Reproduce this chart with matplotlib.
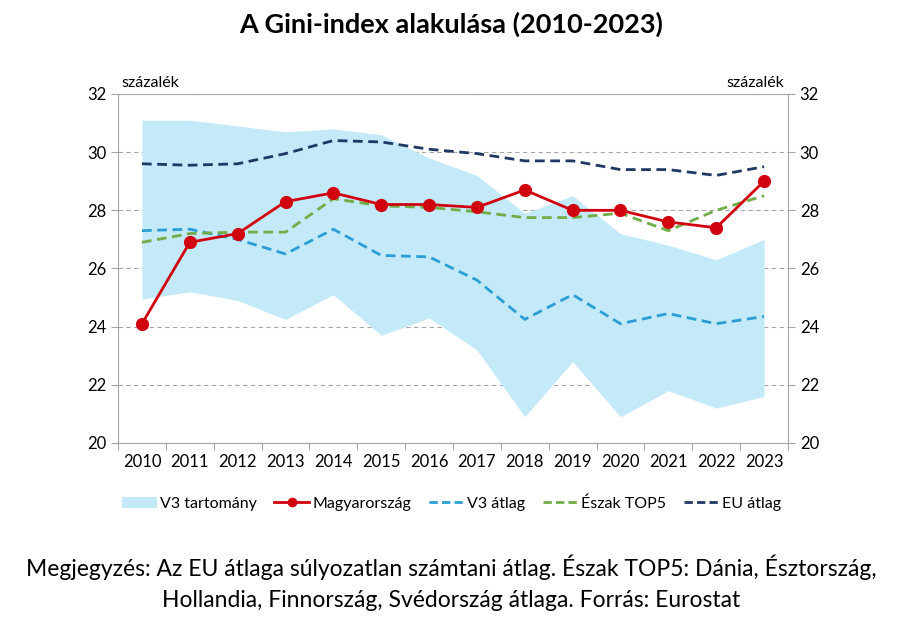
import matplotlib.pyplot as plt
from matplotlib.patches import Patch
from matplotlib.lines import Line2D

plt.rcParams['font.family'] = ['Lato', 'DejaVu Sans']

years = [2010, 2011, 2012, 2013, 2014, 2015, 2016, 2017, 2018, 2019, 2020, 2021, 2022, 2023]
v3_top = [31.1, 31.1, 30.9, 30.7, 30.8, 30.6, 29.8, 29.2, 27.9, 28.5, 27.2, 26.8, 26.3, 27.0]
v3_bottom = [24.95, 25.2, 24.9, 24.25, 25.1, 23.7, 24.3, 23.2, 20.9, 22.8, 20.9, 21.8, 21.2, 21.6]
hungary = [24.1, 26.9, 27.2, 28.3, 28.6, 28.2, 28.2, 28.1, 28.7, 28.0, 28.0, 27.6, 27.4, 29.0]
v3_avg = [27.3, 27.35, 27.0, 26.5, 27.35, 26.45, 26.4, 25.6, 24.25, 25.1, 24.1, 24.45, 24.1, 24.35]
north_top5 = [26.9, 27.2, 27.25, 27.25, 28.4, 28.15, 28.1, 27.95, 27.75, 27.75, 27.9, 27.3, 28.0, 28.5]
eu_avg = [29.6, 29.55, 29.6, 29.95, 30.4, 30.35, 30.1, 29.95, 29.7, 29.7, 29.4, 29.4, 29.2, 29.5]

c_band = '#c4eaf9'
c_hu = '#d0020f'
c_v3 = '#2a9fd6'
c_north = '#70ad47'
c_eu = '#1f3864'

fig = plt.figure(figsize=(9.03, 6.22), dpi=100)
ax = fig.add_axes([0.1307, 0.2878, 0.7419, 0.5611])

x = list(range(len(years)))
ax.fill_between(x, v3_bottom, v3_top, color=c_band, linewidth=0, zorder=1)
ax.plot(x, v3_avg, color=c_v3, linestyle=(0, (3.5, 2)), linewidth=2, zorder=3)
ax.plot(x, north_top5, color=c_north, linestyle=(0, (3.5, 2)), linewidth=2, zorder=3)
ax.plot(x, eu_avg, color=c_eu, linestyle=(0, (3.5, 2)), linewidth=2, zorder=3)
ax.plot(x, hungary, color=c_hu, linewidth=2, marker='o', markersize=8.5, zorder=4)

ax.set_xlim(-0.5, len(years) - 0.5)
ax.set_ylim(20, 32)
ax.set_yticks(range(20, 33, 2))
ax.set_xticks([i - 0.5 for i in range(len(years) + 1)], minor=False)
ax.set_xticklabels([])
ax.set_xticks(x, minor=True)
ax.set_xticklabels([str(y) for y in years], minor=True)
ax.tick_params(axis='x', which='minor', length=0, labelsize=12, pad=8)
ax.tick_params(axis='x', which='major', length=5, color='#a6a6a6', direction='out')
ax.tick_params(axis='y', length=5, color='#a6a6a6', labelsize=12, right=True, labelright=True)
ax.grid(axis='y', color='#a6a6a6', linestyle=(0, (4, 3)), linewidth=0.8, zorder=0)
for sp in ax.spines.values():
    sp.set_color('#a6a6a6')
ax.set_axisbelow(True)

ax.text(0.005, 1.01, 'százalék', transform=ax.transAxes, ha='left', va='bottom', fontsize=11.5)
ax.text(0.995, 1.01, 'százalék', transform=ax.transAxes, ha='right', va='bottom', fontsize=11.5)

fig.suptitle('A Gini-index alakulása (2010-2023)', x=0.5, y=0.982, fontsize=19.5, fontweight='bold')

handles = [
    Patch(facecolor=c_band, edgecolor='none'),
    Line2D([], [], color=c_hu, linewidth=2, marker='o', markersize=6),
    Line2D([], [], color=c_v3, linewidth=2, linestyle=(0, (3, 1.5))),
    Line2D([], [], color=c_north, linewidth=2, linestyle=(0, (3, 1.5))),
    Line2D([], [], color=c_eu, linewidth=2, linestyle=(0, (3, 1.5))),
]
labels = ['V3 tartomány', 'Magyarország', 'V3 átlag', 'Észak TOP5', 'EU átlag']
fig.legend(handles, labels, loc='center', bbox_to_anchor=(0.5, 0.19), ncol=5, frameon=False,
           fontsize=11.5, handlelength=2.2, handletextpad=0.2, columnspacing=1.1)

fig.text(0.5, 0.063, 'Megjegyzés: Az EU átlaga súlyozatlan számtani átlag. Észak TOP5: Dánia, Észtország,\n'
         'Hollandia, Finnország, Svédország átlaga. Forrás: Eurostat',
         ha='center', va='center', fontsize=16.5, linespacing=1.55)

fig.savefig('out.png', dpi=100)
